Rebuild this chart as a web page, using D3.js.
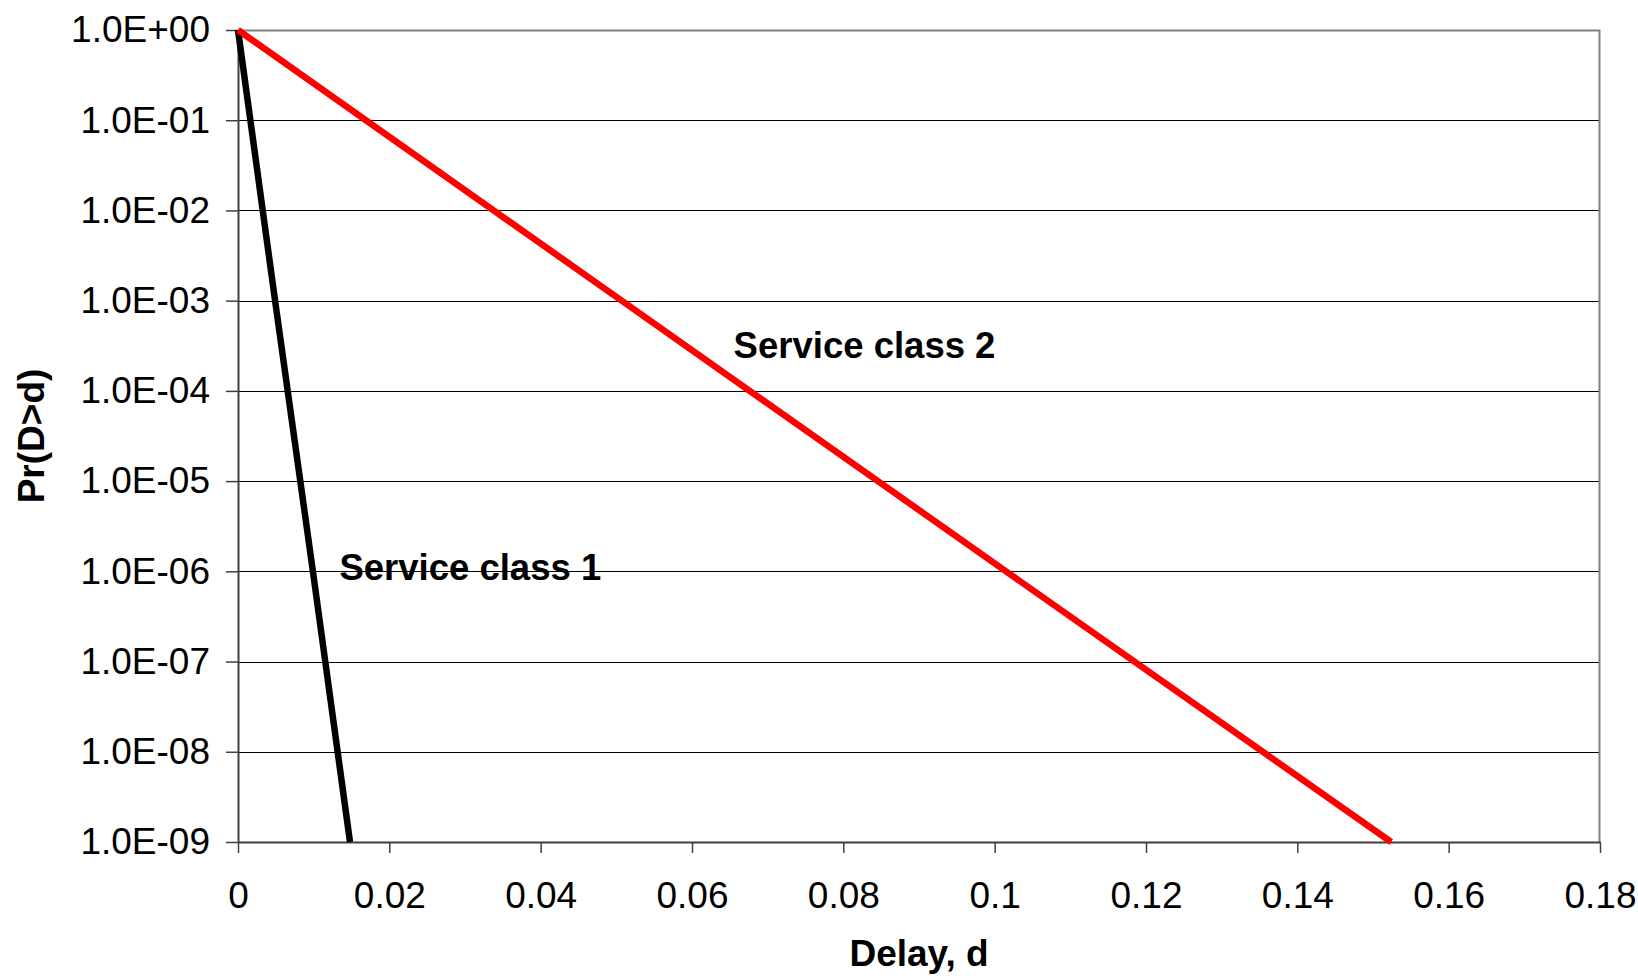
<!DOCTYPE html>
<html>
<head>
<meta charset="utf-8">
<script src="https://cdn.jsdelivr.net/npm/d3@7/dist/d3.min.js"></script>
<style>
  html, body { margin: 0; padding: 0; background: #fff; }
  svg { display: block; font-family: "Liberation Sans", Arial, sans-serif; }
</style>
</head>
<body>
<svg id="chart" width="1638" height="976"></svg>
<script>
// Delay (seconds) at which each service class's tail probability reaches a value
const class1Delay = [0, 0.0049, 0.0099, 0.0148];
const class1Prob  = [1, 1e-3, 1e-6, 1e-9];
const class2Delay = [0, 0.0507, 0.1015, 0.1524];
const class2Prob  = [1, 1e-3, 1e-6, 1e-9];

const seriesNames = ["Service class 1", "Service class 2"];

const xTicks = [0, 0.02, 0.04, 0.06, 0.08, 0.1, 0.12, 0.14, 0.16, 0.18];
const xTickLabels = ["0", "0.02", "0.04", "0.06", "0.08", "0.1", "0.12", "0.14", "0.16", "0.18"];
const yTicks = [1, 1e-1, 1e-2, 1e-3, 1e-4, 1e-5, 1e-6, 1e-7, 1e-8, 1e-9];
const yTickLabels = ["1.0E+00", "1.0E-01", "1.0E-02", "1.0E-03", "1.0E-04",
                     "1.0E-05", "1.0E-06", "1.0E-07", "1.0E-08", "1.0E-09"];

const xTitle = "Delay, d";
const yTitle = "Pr(D>d)";

const svg = d3.select("#chart");
const plotLeft = 238, plotTop = 30, plotRight = 1600, plotBottom = 842;

const x = d3.scaleLinear().domain([0, 0.18]).range([plotLeft, plotRight]);
const y = d3.scaleLog().domain([1e-9, 1]).range([plotBottom, plotTop]);

// horizontal gridlines
svg.append("g")
  .selectAll("line")
  .data(yTicks.filter(v => v < 1 && v > 1e-9))
  .join("line")
  .attr("x1", plotLeft).attr("x2", plotRight)
  .attr("y1", d => Math.round(y(d)) + 0.5).attr("y2", d => Math.round(y(d)) + 0.5)
  .attr("stroke", "#000").attr("stroke-width", 1);

// plot-area border (top and right)
svg.append("path")
  .attr("d", `M${plotLeft},${plotTop + 0.5}H${plotRight - 0.5}V${plotBottom}`)
  .attr("fill", "none").attr("stroke", "#808080").attr("stroke-width", 2);

// axes
const yAxis = d3.axisLeft(y)
  .tickValues(yTicks)
  .tickFormat((d, i) => yTickLabels[i])
  .tickSize(12).tickSizeOuter(0).tickPadding(16);
const gy = svg.append("g").attr("transform", `translate(${plotLeft},0)`).call(yAxis);

const xAxis = d3.axisBottom(x)
  .tickValues(xTicks)
  .tickFormat((d, i) => xTickLabels[i])
  .tickSize(11).tickSizeOuter(0);
const gx = svg.append("g").attr("transform", `translate(0,${plotBottom})`).call(xAxis);

[gx, gy].forEach(g => {
  g.select(".domain").attr("stroke", "#404040").attr("stroke-width", 2);
  g.selectAll(".tick line").attr("stroke", "#404040").attr("stroke-width", 1.5);
  g.selectAll("text").attr("fill", "#000")
    .style("font-size", "37px").style("font-family", "'Liberation Sans', Arial, sans-serif");
});
gx.selectAll("text").attr("y", 66).attr("dy", 0);

// series lines
const line = d3.line().x(d => x(d[0])).y(d => y(d[1]));
const series = [
  { pts: d3.zip(class1Delay, class1Prob), color: "#000000" },
  { pts: d3.zip(class2Delay, class2Prob), color: "#ff0000" }
];
svg.append("g")
  .selectAll("path")
  .data(series)
  .join("path")
  .attr("d", d => line(d.pts))
  .attr("fill", "none")
  .attr("stroke", d => d.color)
  .attr("stroke-width", 6.5)
  .attr("stroke-linejoin", "round");

// series labels
const labels = [
  { text: seriesNames[0], x: 0.0134, p: 10 ** -6.1 },
  { text: seriesNames[1], x: 0.0655, p: 10 ** -3.63 }
];
svg.append("g")
  .selectAll("text")
  .data(labels)
  .join("text")
  .attr("x", d => x(d.x))
  .attr("y", d => y(d.p))
  .attr("font-size", 36.5)
  .attr("font-weight", "bold")
  .text(d => d.text);

// axis titles
svg.append("text")
  .attr("x", (plotLeft + plotRight) / 2).attr("y", 966)
  .attr("text-anchor", "middle")
  .attr("font-size", 37).attr("font-weight", "bold")
  .text(xTitle);

svg.append("text")
  .attr("transform", `translate(44,${(plotTop + plotBottom) / 2}) rotate(-90)`)
  .attr("text-anchor", "middle")
  .attr("font-size", 37).attr("font-weight", "bold")
  .text(yTitle);
</script>
</body>
</html>
